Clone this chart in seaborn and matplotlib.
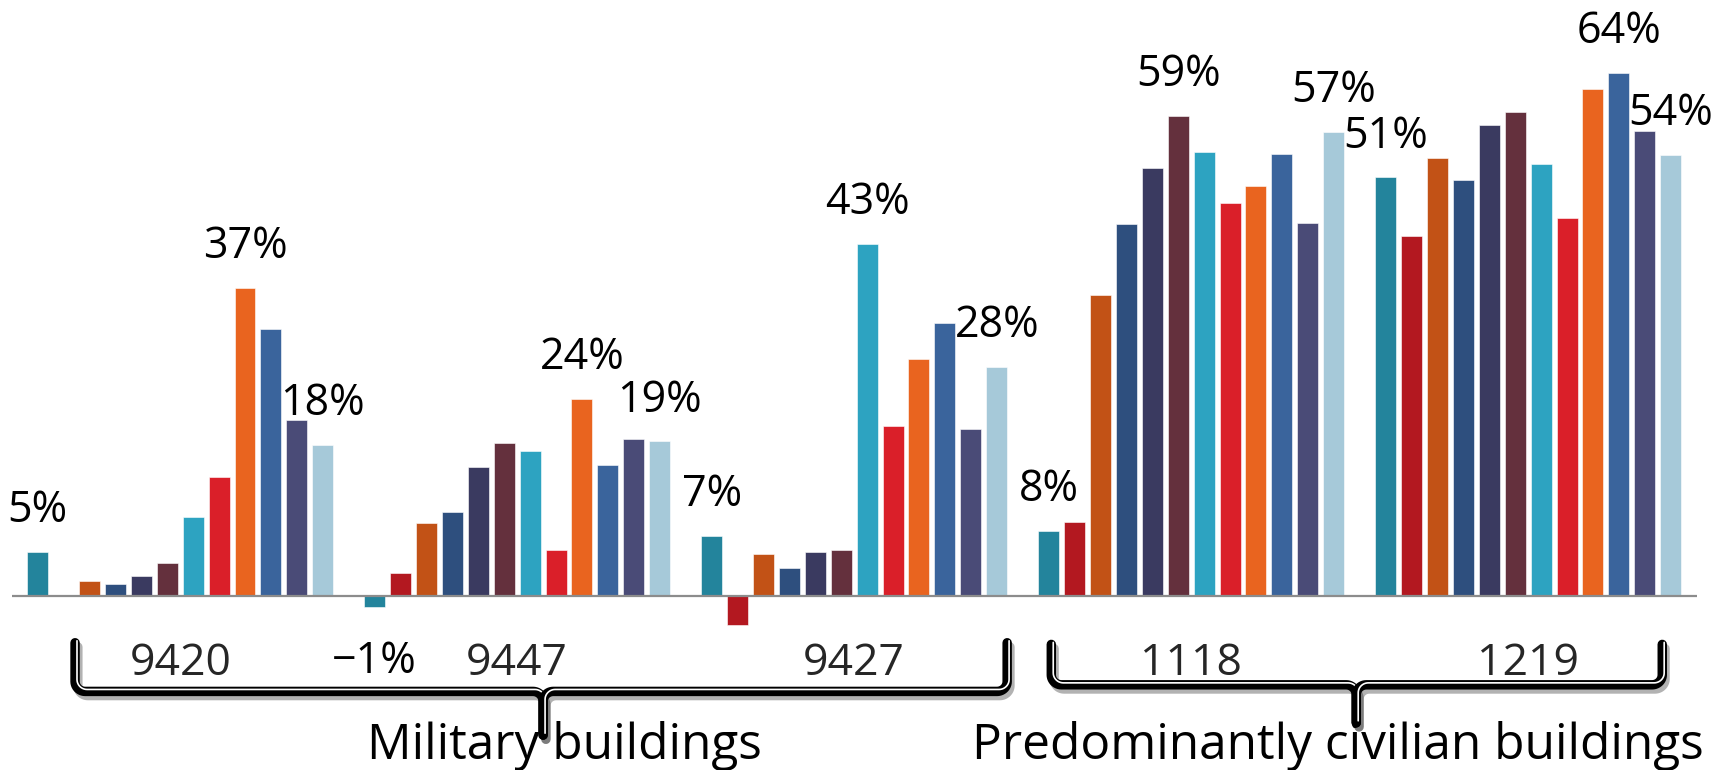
import matplotlib.pyplot as plt
import matplotlib.patheffects as pe
import numpy as np
import pandas as pd
import seaborn as sns

groups = ["9420", "9447", "9427", "1118", "1219"]
series = [f"S{i + 1}" for i in range(12)]
colors = [
    "#23849C", "#B31820", "#C25216", "#2E4F7E", "#3A3A60", "#64303D",
    "#2DA3C1", "#DA1F29", "#E9641F", "#3A649C", "#4A4B77", "#A6C9D9",
]

# percent change per series, one row per building
vals_9420 = [5.3, 0.0, 1.8, 1.4, 2.4, 4.0, 9.5, 14.4, 37.3, 32.3, 21.3, 18.3]
vals_9447 = [-1.4, 2.8, 8.8, 10.1, 15.6, 18.5, 17.5, 5.5, 23.8, 15.8, 19.0, 18.7]
vals_9427 = [7.2, -3.5, 5.1, 3.4, 5.3, 5.5, 42.6, 20.6, 28.7, 33.1, 20.2, 27.7]
vals_1118 = [7.8, 8.9, 36.5, 45.1, 51.8, 58.2, 53.8, 47.6, 49.7, 53.5, 45.2, 56.2]
vals_1219 = [50.7, 43.6, 53.1, 50.4, 57.1, 58.6, 52.3, 45.8, 61.4, 63.4, 56.3, 53.4]

# value labels: first, highest and last bar of each building
label_group = [0, 0, 0, 1, 1, 1, 2, 2, 2, 3, 3, 3, 4, 4, 4]
label_series = [0, 8, 11, 0, 8, 11, 0, 6, 11, 0, 5, 11, 0, 9, 11]
label_text = ["5%", "37%", "18%", "\u22121%", "24%", "19%", "7%", "43%", "28%",
              "8%", "59%", "57%", "51%", "64%", "54%"]

categories = ["Military buildings", "Predominantly civilian buildings"]

sns.set_theme(style="white")
plt.rcParams["font.family"] = ["Open Sans", "DejaVu Sans"]

df = pd.DataFrame({
    "group": np.repeat(groups, len(series)),
    "series": series * len(groups),
    "value": np.concatenate([vals_9420, vals_9447, vals_9427, vals_1118, vals_1219]),
})

fig = plt.figure(figsize=(17.29, 7.70), dpi=100)
ax = fig.add_axes([0.00677, 0.1835, 0.9745, 0.7929])

sns.barplot(
    data=df, x="group", y="value", hue="series", order=groups, hue_order=series,
    palette=colors, saturation=1, width=12 / 13, gap=0.19, errorbar=None,
    legend=False, ax=ax, edgecolor="white", linewidth=0.4,
)
ax.set_xlim(-0.5, 4.5)
ax.set_ylim(-4, 70)
ax.axhline(0, color="#8c8c8c", lw=1.6, zorder=5)
for sp in ax.spines.values():
    sp.set_visible(False)
ax.set_yticks([])
ax.set_xlabel("")
ax.set_ylabel("")
ax.set_xticks(range(len(groups)))
ax.set_xticklabels(groups, fontsize=32)
ax.tick_params(axis="x", length=0, pad=9)

for g, s, txt in zip(label_group, label_series, label_text):
    bar = ax.containers[s][g]
    x = bar.get_x() + bar.get_width() / 2
    v = bar.get_height()
    dy = 21.5 if v >= 0 else -47
    ax.annotate(txt, (x, v), xytext=(0, dy), textcoords="offset points",
                ha="center", va="baseline", fontsize=31, color="black")


def brace(xl, xr, xc, ytop, yline, ytip, rx=0.03, ry=1.2):
    t = np.linspace(0, np.pi / 2, 12)
    halves = []
    for xa, s in ((xl, 1), (xr, -1)):
        # arm down, corner into the bar, bar to the middle, curl down to the tip
        corner_x = xa + s * rx - s * rx * np.cos(t)
        corner_y = yline + ry - ry * np.sin(t)
        tip_x = xc - s * rx + s * rx * np.sin(t)
        tip_y = yline - ry + ry * np.cos(t)
        xs = np.concatenate([[xa], corner_x, tip_x, [xc]])
        ys = np.concatenate([[ytop], corner_y, tip_y, [ytip]])
        halves.append((xs, ys))
    return halves


effects = [
    pe.SimpleLineShadow(offset=(2, -3), shadow_color="black", alpha=0.3),
    pe.Stroke(linewidth=6.8, foreground="black"),
    pe.Stroke(linewidth=1.2, foreground="white", offset=(1.4, 1.4)),
]
braces = [(-0.312, 2.454, 1.077, -5.7, -11.6, -16.9),
          (2.585, 4.398, 3.490, -5.9, -10.8, -15.4)]
for spec in braces:
    for xs, ys in brace(*spec):
        ax.plot(xs, ys, color="black", lw=6.8, clip_on=False, zorder=6,
                solid_capstyle="round", solid_joinstyle="round", path_effects=effects)

title_x = [1.139, 3.436]
for x, name in zip(title_x, categories):
    ax.text(x, -19.8, name, ha="center", va="baseline", fontsize=35.7,
            color="black", clip_on=False, zorder=4)

fig.savefig("out.png", dpi=100)
